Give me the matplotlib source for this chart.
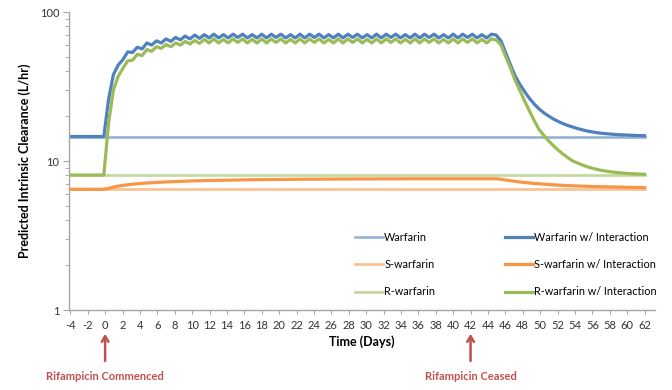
import numpy as np
import matplotlib

matplotlib.use("Agg")
import matplotlib.pyplot as plt
from matplotlib.ticker import LogLocator, FixedLocator, NullFormatter, FuncFormatter

plt.rcParams["font.family"] = ["Lato", "DejaVu Sans"]
plt.rcParams["axes.unicode_minus"] = False

# time grid (days), one point every 0.55 day from -4 to 62
days = np.round(np.arange(121) * 0.55 - 4, 2)

# baseline clearances (L/hr), flat over the whole period
warfarin_base = [14.6] * len(days)
s_warfarin_base = [6.46] * len(days)
r_warfarin_base = [8.05] * len(days)

warfarin_int = [
    14.6, 14.6, 14.6, 14.6, 14.6, 14.6, 14.6, 14.6, 26.0, 38.0,
    44.0, 48.0, 54.0, 53.5, 58.0, 56.5, 62.0, 60.0, 64.0, 62.0,
    66.0, 63.5, 67.5, 65.0, 69.0, 66.0, 70.0, 66.5, 70.5, 67.0,
    71.0, 67.0, 70.5, 67.0, 71.0, 67.5, 71.0, 67.0, 70.5, 67.0,
    71.0, 67.0, 71.0, 67.5, 71.0, 67.0, 70.5, 67.0, 71.0, 67.0,
    71.0, 67.5, 71.0, 67.0, 70.5, 67.0, 71.0, 67.0, 71.0, 67.5,
    71.0, 67.0, 70.5, 67.0, 71.0, 67.0, 71.0, 67.5, 71.0, 67.0,
    70.5, 67.0, 71.0, 67.0, 71.0, 67.5, 71.0, 67.0, 70.5, 67.0,
    71.0, 67.0, 71.0, 67.5, 71.0, 67.0, 70.5, 67.0, 71.0, 70.0,
    64.0, 53.0, 44.0, 37.0, 32.5, 29.0, 26.2, 24.0, 22.3, 21.0,
    20.0, 19.1, 18.4, 17.8, 17.3, 16.9, 16.5, 16.2, 15.9, 15.7,
    15.5, 15.35, 15.25, 15.15, 15.05, 15.0, 14.95, 14.9, 14.85, 14.8,
    14.8,
]

s_warfarin_int = [
    6.46, 6.46, 6.46, 6.46, 6.46, 6.46, 6.46, 6.46, 6.55, 6.68,
    6.78, 6.86, 6.93, 6.99, 7.04, 7.08, 7.12, 7.15, 7.18, 7.21,
    7.24, 7.26, 7.28, 7.30, 7.32, 7.34, 7.36, 7.37, 7.39, 7.40,
    7.41, 7.42, 7.43, 7.44, 7.45, 7.46, 7.47, 7.48, 7.49, 7.49,
    7.50, 7.51, 7.51, 7.52, 7.52, 7.53, 7.53, 7.54, 7.54, 7.55,
    7.55, 7.55, 7.56, 7.56, 7.56, 7.57, 7.57, 7.57, 7.57, 7.58,
    7.58, 7.58, 7.58, 7.58, 7.59, 7.59, 7.59, 7.59, 7.59, 7.59,
    7.60, 7.60, 7.60, 7.60, 7.60, 7.60, 7.60, 7.60, 7.60, 7.60,
    7.60, 7.60, 7.60, 7.60, 7.60, 7.60, 7.60, 7.60, 7.60, 7.60,
    7.55, 7.45, 7.37, 7.30, 7.23, 7.17, 7.12, 7.07, 7.03, 6.99,
    6.95, 6.92, 6.89, 6.86, 6.84, 6.82, 6.80, 6.78, 6.76, 6.74,
    6.73, 6.72, 6.71, 6.70, 6.69, 6.68, 6.67, 6.66, 6.65, 6.64,
    6.63,
]

r_warfarin_int = [
    8.05, 8.05, 8.05, 8.05, 8.05, 8.05, 8.05, 8.05, 18.0, 30.0,
    37.0, 42.0, 47.0, 47.5, 52.0, 51.0, 56.0, 54.5, 58.5, 57.0,
    60.5, 58.5, 62.0, 60.0, 63.5, 61.0, 64.5, 61.5, 65.5, 62.0,
    66.0, 62.0, 65.5, 62.0, 66.0, 62.5, 66.0, 62.0, 65.5, 62.0,
    66.0, 62.0, 66.0, 62.5, 66.0, 62.0, 65.5, 62.0, 66.0, 62.0,
    66.0, 62.5, 66.0, 62.0, 65.5, 62.0, 66.0, 62.0, 66.0, 62.5,
    66.0, 62.0, 65.5, 62.0, 66.0, 62.0, 66.0, 62.5, 66.0, 62.0,
    65.5, 62.0, 66.0, 62.0, 66.0, 62.5, 66.0, 62.0, 65.5, 62.0,
    66.0, 62.0, 66.0, 62.5, 66.0, 62.0, 65.5, 62.0, 66.0, 65.0,
    60.0, 50.0, 42.0, 34.5, 29.5, 25.0, 21.5, 18.5, 16.2, 14.8,
    13.6, 12.6, 11.8, 11.1, 10.5, 10.0, 9.7, 9.4, 9.15, 8.95,
    8.8, 8.65, 8.55, 8.45, 8.38, 8.32, 8.27, 8.23, 8.2, 8.17,
    8.15,
]

x_ticks = list(range(-4, 63, 2))
events = [(0, "Rifampicin Commenced"), (42, "Rifampicin Ceased")]

fig = plt.figure(figsize=(6.72, 3.9), dpi=100)
ax = fig.add_axes([0.1027, 0.2051, 0.8720, 0.7641])

ax.plot(days, warfarin_base, color="#95B3D7", lw=1.9, label="Warfarin")
ax.plot(days, s_warfarin_base, color="#FAC090", lw=1.9, label="S-warfarin")
ax.plot(days, r_warfarin_base, color="#C3D69B", lw=1.9, label="R-warfarin")
ax.plot(days, warfarin_int, color="#4F81BD", lw=2.3, label="Warfarin w/ Interaction")
ax.plot(days, s_warfarin_int, color="#F79646", lw=2.3, label="S-warfarin w/ Interaction")
ax.plot(days, r_warfarin_int, color="#9BBB59", lw=2.3, label="R-warfarin w/ Interaction")

ax.set_yscale("log")
ax.set_ylim(1, 100)
ax.set_xlim(-4.15, 63.2)
ax.yaxis.set_major_locator(FixedLocator([1, 10, 100]))
ax.yaxis.set_major_formatter(FuncFormatter(lambda v, p: f"{v:g}"))
ax.yaxis.set_minor_locator(LogLocator(base=10, subs=np.arange(2, 10)))
ax.yaxis.set_minor_formatter(NullFormatter())
ax.set_xticks(x_ticks)

for side in ("top", "right"):
    ax.spines[side].set_visible(False)
for side in ("left", "bottom"):
    ax.spines[side].set_color("#A6A6A6")
    ax.spines[side].set_linewidth(1.0)
ax.tick_params(axis="both", which="both", color="#A6A6A6", labelsize=8, labelcolor="#333333")
ax.tick_params(axis="y", which="major", length=4, pad=3)
ax.tick_params(axis="y", which="minor", length=3)
ax.tick_params(axis="x", length=3, pad=4)

ax.set_xlabel("Time (Days)", fontsize=9, fontweight="bold", labelpad=3)
ax.set_ylabel("Predicted Intrinsic Clearance (L/hr)", fontsize=9, fontweight="bold", labelpad=6)

ax.legend(ncol=2, loc="upper left", bbox_to_anchor=(0.488, 0.262), frameon=False,
          fontsize=7.8, handlelength=2.6, handletextpad=0.1, columnspacing=6.4,
          labelspacing=1.5, borderaxespad=0, borderpad=0)

xform = ax.get_xaxis_transform()
for day, text in events:
    ax.annotate(text, xy=(day, -0.08), xytext=(day, -0.222), xycoords=xform, textcoords=xform,
                ha="center", va="center", fontsize=8, fontweight="bold", color="#C0504D",
                annotation_clip=False,
                arrowprops=dict(arrowstyle="->,head_length=0.5,head_width=0.3", color="#C0504D",
                                lw=1.8, shrinkA=5, shrinkB=0))

fig.savefig("out.png", dpi=100)
